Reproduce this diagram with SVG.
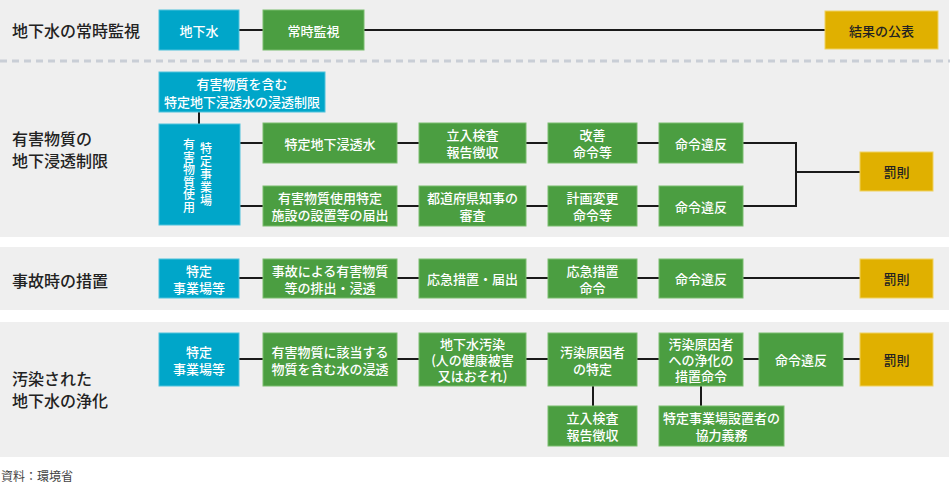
<svg xmlns="http://www.w3.org/2000/svg" width="950" height="482" viewBox="0 0 950 482">
<style>
.panel{fill:#efefef}
.b{fill:#00a6c9;stroke:#4fc2dc;stroke-width:1}
.g{fill:#4b9e41;stroke:#7bbd6f;stroke-width:1}
.y{fill:#e0b000;stroke:#f0d260;stroke-width:1}
text{font-family:"Noto Sans CJK JP","Noto Sans",sans-serif}
.t{fill:#ffffff;font-size:13px;text-anchor:middle;dominant-baseline:central;font-weight:500}
.vt{fill:#ffffff;font-size:12px;text-anchor:middle;dominant-baseline:central;font-weight:500}
.td{fill:#222222;font-size:13px;text-anchor:middle;dominant-baseline:central;font-weight:500}
.lab{fill:#222222;font-size:16px;dominant-baseline:central;font-weight:500}
.c{fill:none;stroke:#1a1a1a;stroke-width:2}
</style>
<rect width="950" height="482" fill="#ffffff"/>
<rect class="panel" x="0" y="0" width="949" height="237"/>
<rect class="panel" x="0" y="247" width="949" height="63"/>
<rect class="panel" x="0" y="322" width="949" height="135"/>
<line x1="0" y1="61" x2="950" y2="61" stroke="#c9ced6" stroke-width="3" stroke-dasharray="7,5"/>

<g id="labels">
<text class="lab" x="12" y="30">地下水の常時監視</text>
<text class="lab" x="12" y="138">有害物質の</text>
<text class="lab" x="12" y="160">地下浸透制限</text>
<text class="lab" x="12" y="280">事故時の措置</text>
<text class="lab" x="12" y="378">汚染された</text>
<text class="lab" x="12" y="400">地下水の浄化</text>
<text x="1" y="475" fill="#444444" font-size="12" dominant-baseline="central">資料：環境省</text>
</g>

<g id="connectors">
<path class="c" d="M239,30H263M364,30H825"/>
<path class="c" d="M199,112V124"/>
<path class="c" d="M240,143H263M397,143H419M526,143H548M637,143H659M743,143H796V206H743M796,172H860"/>
<path class="c" d="M240,206H263M397,206H419M526,206H548M637,206H659"/>
<path class="c" d="M239,278H263M397,278H419M526,278H548M637,278H659M743,278H860"/>
<path class="c" d="M239,359H263M397,359H419M526,359H548M637,359H659M743,359H759M843,359H860"/>
<path class="c" d="M593,386V406M701,386V406"/>
</g>

<g id="n-chika"><rect class="b" x="159" y="10" width="80" height="40"/><text class="t" x="199" y="30">地下水</text></g>
<g id="n-joji"><rect class="g" x="263" y="10" width="101" height="40"/><text class="t" x="313.5" y="30">常時監視</text></g>
<g id="n-kohyo"><rect class="y" x="825" y="11" width="113" height="38"/><text class="td" x="881.5" y="30">結果の公表</text></g>

<g id="n-seigen"><rect class="b" x="159" y="72" width="166" height="40"/><text class="t" x="242" y="83.5">有害物質を含む</text><text class="t" x="242" y="101">特定地下浸透水の浸透制限</text></g>
<g id="n-jigyojo"><rect class="b" x="159" y="124" width="81" height="101"/>
<text class="vt"><tspan x="206" y="147">特</tspan><tspan x="206" y="160">定</tspan><tspan x="206" y="173">事</tspan><tspan x="206" y="186">業</tspan><tspan x="206" y="199">場</tspan></text>
<text class="vt"><tspan x="189" y="143">有</tspan><tspan x="189" y="155.5">害</tspan><tspan x="189" y="168">物</tspan><tspan x="189" y="180.5">質</tspan><tspan x="189" y="193">使</tspan><tspan x="189" y="205.5">用</tspan></text></g>
<g id="n-tokutei"><rect class="g" x="263" y="123" width="134" height="40"/><text class="t" x="330" y="143">特定地下浸透水</text></g>
<g id="n-tachiiri1"><rect class="g" x="419" y="123" width="107" height="40"/><text class="t" x="472.5" y="134.5">立入検査</text><text class="t" x="472.5" y="151.5">報告徴収</text></g>
<g id="n-kaizen"><rect class="g" x="548" y="123" width="89" height="40"/><text class="t" x="592.5" y="134.5">改善</text><text class="t" x="592.5" y="151.5">命令等</text></g>
<g id="n-ihan1"><rect class="g" x="659" y="123" width="84" height="40"/><text class="t" x="701" y="143">命令違反</text></g>
<g id="n-todoke"><rect class="g" x="263" y="186" width="134" height="40"/><text class="t" x="330" y="197.5">有害物質使用特定</text><text class="t" x="330" y="214.5">施設の設置等の届出</text></g>
<g id="n-shinsa"><rect class="g" x="419" y="186" width="107" height="40"/><text class="t" x="472.5" y="197.5">都道府県知事の</text><text class="t" x="472.5" y="214.5">審査</text></g>
<g id="n-keikaku"><rect class="g" x="548" y="186" width="89" height="40"/><text class="t" x="592.5" y="197.5">計画変更</text><text class="t" x="592.5" y="214.5">命令等</text></g>
<g id="n-ihan2"><rect class="g" x="659" y="186" width="84" height="40"/><text class="t" x="701" y="206">命令違反</text></g>
<g id="n-bassoku1"><rect class="y" x="860" y="152" width="73" height="39"/><text class="td" x="896.5" y="171.5">罰則</text></g>

<g id="n-jigyojo2"><rect class="b" x="159" y="259" width="80" height="39"/><text class="t" x="199" y="270">特定</text><text class="t" x="199" y="287">事業場等</text></g>
<g id="n-jiko"><rect class="g" x="263" y="259" width="134" height="39"/><text class="t" x="330" y="270">事故による有害物質</text><text class="t" x="330" y="287">等の排出・浸透</text></g>
<g id="n-okyu"><rect class="g" x="419" y="259" width="107" height="39"/><text class="t" x="472.5" y="278.5">応急措置・届出</text></g>
<g id="n-okyumeirei"><rect class="g" x="548" y="259" width="89" height="39"/><text class="t" x="592.5" y="270">応急措置</text><text class="t" x="592.5" y="287">命令</text></g>
<g id="n-ihan3"><rect class="g" x="659" y="259" width="84" height="39"/><text class="t" x="701" y="278.5">命令違反</text></g>
<g id="n-bassoku2"><rect class="y" x="860" y="259" width="73" height="39"/><text class="td" x="896.5" y="278.5">罰則</text></g>

<g id="n-jigyojo3"><rect class="b" x="159" y="333" width="80" height="53"/><text class="t" x="199" y="351">特定</text><text class="t" x="199" y="368">事業場等</text></g>
<g id="n-shinto"><rect class="g" x="263" y="333" width="134" height="53"/><text class="t" x="330" y="351">有害物質に該当する</text><text class="t" x="330" y="368">物質を含む水の浸透</text></g>
<g id="n-osen"><rect class="g" x="419" y="333" width="107" height="53"/><text class="t" x="472.5" y="343.5">地下水汚染</text><text class="t" x="472.5" y="359.5">(人の健康被害</text><text class="t" x="472.5" y="375.5">又はおそれ)</text></g>
<g id="n-genin"><rect class="g" x="548" y="333" width="89" height="53"/><text class="t" x="592.5" y="351">汚染原因者</text><text class="t" x="592.5" y="368">の特定</text></g>
<g id="n-joka"><rect class="g" x="659" y="333" width="84" height="53"/><text class="t" x="701" y="343.5">汚染原因者</text><text class="t" x="701" y="359.5">への浄化の</text><text class="t" x="701" y="375.5">措置命令</text></g>
<g id="n-ihan4"><rect class="g" x="759" y="333" width="84" height="53"/><text class="t" x="801" y="359.5">命令違反</text></g>
<g id="n-bassoku3"><rect class="y" x="860" y="333" width="73" height="53"/><text class="td" x="896.5" y="359.5">罰則</text></g>
<g id="n-tachiiri2"><rect class="g" x="548" y="406" width="89" height="40"/><text class="t" x="592.5" y="417.5">立入検査</text><text class="t" x="592.5" y="434.5">報告徴収</text></g>
<g id="n-kyoryoku"><rect class="g" x="659" y="406" width="125" height="40"/><text class="t" x="721.5" y="417.5">特定事業場設置者の</text><text class="t" x="721.5" y="434.5">協力義務</text></g>
</svg>
